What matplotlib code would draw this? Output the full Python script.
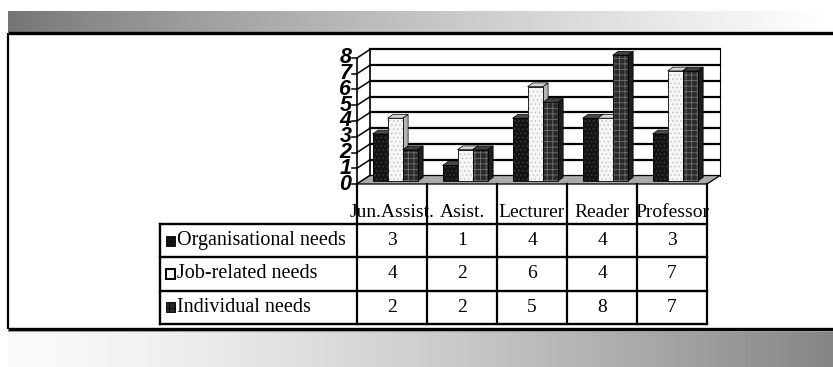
"""Training needs by academic rank: 3-D style clustered bars with data table."""

import numpy as np
import matplotlib

matplotlib.use("Agg")
import matplotlib.pyplot as plt  # noqa: E402
from matplotlib.patches import Polygon, Rectangle  # noqa: E402

# ---- data -----------------------------------------------------------------
categories = ["Jun.Assist.", "Asist.", "Lecturer", "Reader", "Professor"]
series_names = ["Organisational needs", "Job-related needs", "Individual needs"]
organisational = [3, 1, 4, 4, 3]
job_related = [4, 2, 6, 4, 7]
individual = [2, 2, 5, 8, 7]
y_ticks = [0, 1, 2, 3, 4, 5, 6, 7, 8]

series_values = [organisational, job_related, individual]

# ---- styles ---------------------------------------------------------------
face = ["#141414", "#f6f6f6", "#2a2a2a"]
hatch_col = ["#3c3c3c", "#c4c4c4", "#707070"]
hatches = ["....", "....", "+++"]
side_col = ["#262626", "#b4b4b4", "#1e1e1e"]
top_col = ["#4a4a4a", "#d4d4d4", "#404040"]

SERIF = ["Liberation Serif", "DejaVu Serif"]
SANS = ["Liberation Sans", "DejaVu Sans"]

plt.rcParams["hatch.linewidth"] = 0.6

W, H = 833, 367
fig = plt.figure(figsize=(W / 100, H / 100), dpi=100)


def px_box(x0, x1, y_top, y_bot):
    return [x0 / W, 1 - y_bot / H, (x1 - x0) / W, (y_bot - y_top) / H]


# ---- slide decoration (gradient bands and frame) ----------------------------
bg = fig.add_axes([0, 0, 1, 1])
bg.set_xlim(0, W)
bg.set_ylim(H, 0)
bg.axis("off")
xx = np.linspace(0, 1, 256)[None, :]
bg.imshow(0.45 + 0.55 * xx ** 0.8, extent=(8, W, 32, 11), cmap="gray",
          vmin=0, vmax=1, aspect="auto", interpolation="bilinear")
bg.imshow(0.98 - 0.46 * xx ** 1.4, extent=(8, W, 367, 331), cmap="gray",
          vmin=0, vmax=1, aspect="auto", interpolation="bilinear")
bg.plot([8, W], [33, 33], color="black", lw=2.4, solid_capstyle="butt")
bg.plot([8, 8], [33, 329], color="black", lw=1.6, solid_capstyle="butt")
bg.plot([8, W], [329, 329], color="black", lw=2.4, solid_capstyle="butt")
bg.plot([8, W], [331, 331], color="#9a9a9a", lw=0.8)
bg.set_xlim(0, W)
bg.set_ylim(H, 0)

# ---- chart ----------------------------------------------------------------
ax = fig.add_axes(px_box(357, 707, 58, 184))
ax.set_xlim(0, len(categories))
ax.set_ylim(0, 8)
ax.axis("off")

DX, DY = 13 / 70, 8.5 / 15.75          # floor depth in data units
PX, PY = 4.3 / 70, 2.8 / 15.75         # bar plane offset
BX, BY = 5.5 / 70, 3.8 / 15.75         # bar depth
BW, G0 = 0.215, 0.16
ncat = len(categories)

# back wall and gridlines
ax.add_patch(Rectangle((DX, DY), ncat, 8, facecolor="white",
                       edgecolor="none", clip_on=False, zorder=1))
for k in y_ticks[1:]:
    ax.plot([DX, ncat + DX], [k + DY, k + DY], color="black", lw=1.6,
            clip_on=False, zorder=2)
ax.plot([DX, DX], [DY, 8 + DY], color="black", lw=1.2, clip_on=False, zorder=2)
ax.plot([ncat + DX, ncat + DX], [DY, 8 + DY], color="black", lw=0.8,
        clip_on=False, zorder=2)

# floor
ax.add_patch(Polygon([(0, 0), (ncat, 0), (ncat + DX, DY), (DX, DY)],
                     closed=True, facecolor="#aaaaaa", edgecolor="black",
                     lw=0.9, clip_on=False, zorder=3))

# left wall diagonals, front axis, ticks, tick labels
for k in y_ticks:
    ax.plot([0, DX], [k, k + DY], color="black", lw=1.1, clip_on=False,
            zorder=2)
    ax.plot([-0.07, 0], [k, k], color="black", lw=1.1, clip_on=False)
    ax.text(-0.08, k, str(k), ha="right", va="center", fontsize=15.5,
            fontweight="bold", fontstyle="italic", family=SANS)
ax.plot([0, 0], [0, 8], color="black", lw=1.2, clip_on=False, zorder=4)

# bars
for j, vals in enumerate(series_values):
    xs = np.arange(ncat) + G0 + PX + j * BW
    z = 10 + 3 * j
    for x0, v in zip(xs, vals):
        x1, y0, y1 = x0 + BW, PY, PY + v
        ax.add_patch(Polygon([(x1, y0), (x1 + BX, y0 + BY), (x1 + BX, y1 + BY),
                              (x1, y1)], closed=True, facecolor=side_col[j],
                             edgecolor="black", lw=0.5, clip_on=False,
                             zorder=z))
        ax.add_patch(Polygon([(x0, y1), (x1, y1), (x1 + BX, y1 + BY),
                              (x0 + BX, y1 + BY)], closed=True,
                             facecolor=top_col[j], edgecolor="black", lw=0.5,
                             clip_on=False, zorder=z))
    ax.bar(xs, vals, BW, bottom=PY, align="edge", color=face[j],
           hatch=hatches[j], edgecolor=hatch_col[j], linewidth=0,
           clip_on=False, zorder=z + 1)
    ax.bar(xs, vals, BW, bottom=PY, align="edge", fill=False,
           edgecolor="black", linewidth=0.6, clip_on=False, zorder=z + 2)

# ---- data table -----------------------------------------------------------
LABEL_W = 197 / 70
tax = fig.add_axes(px_box(160, 707, 184, 324))
tax.set_xlim(-LABEL_W, ncat)
tax.set_ylim(-3, 1.2)
tax.axis("off")

nrow = len(series_names)
for r in range(nrow + 1):
    tax.plot([-LABEL_W, ncat], [-r, -r], color="black", lw=1.7,
             clip_on=False, solid_capstyle="projecting")
tax.plot([-LABEL_W, -LABEL_W], [-nrow, 0], color="black", lw=1.7,
         clip_on=False)
for c in range(ncat + 1):
    tax.plot([c, c], [-nrow, 1.2], color="black", lw=1.6, clip_on=False)

for i, name in enumerate(categories):
    tax.text(i + 0.5, 0.36, name, ha="center", va="center", fontsize=14,
             family=SERIF)

for r, (name, vals) in enumerate(zip(series_names, series_values)):
    yc = -(r + 0.5)
    tax.add_patch(Rectangle((-LABEL_W + 0.08, yc - 0.15), 0.13, 0.3,
                            facecolor=face[r],
                            hatch=hatches[r] if r != 1 else None,
                            edgecolor="black", lw=1.4 if r == 1 else 0.6,
                            clip_on=False))
    tax.text(-LABEL_W + 0.25, yc, name, ha="left", va="center",
             fontsize=14.5, family=SERIF)
    for i, v in enumerate(vals):
        tax.text(i + 0.5, yc, str(v), ha="center", va="center", fontsize=14,
                 family=SERIF)

fig.savefig("out.png", dpi=100, facecolor="white")
